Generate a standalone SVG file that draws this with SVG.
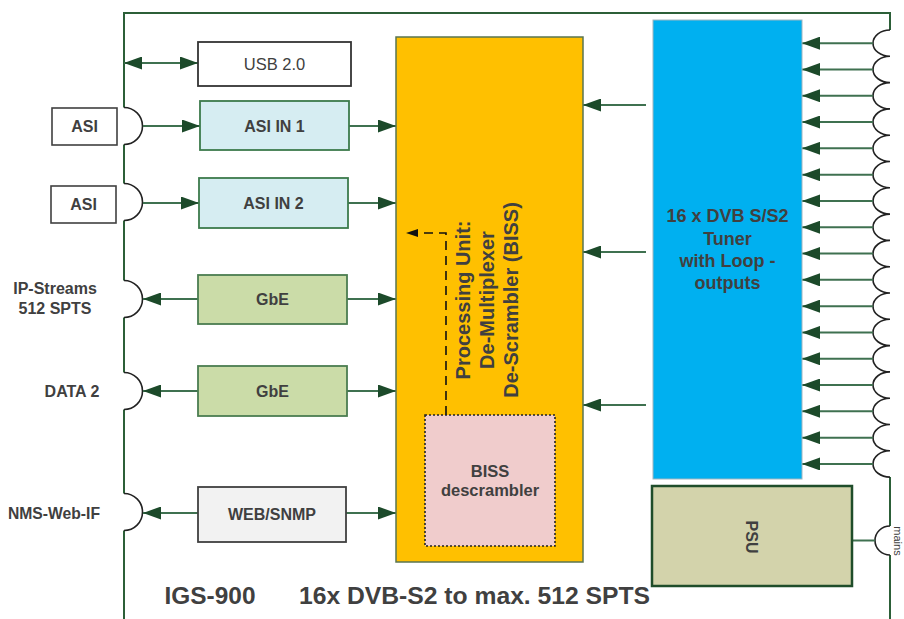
<svg xmlns="http://www.w3.org/2000/svg" width="904" height="619" viewBox="0 0 904 619">
<defs>
<style>
.t{font-family:"Liberation Sans",Arial,sans-serif;font-weight:bold;fill:#404040;text-anchor:middle}
.n{font-weight:normal}
.frame{fill:none;stroke:#2c5f38;stroke-width:2}
.bump{fill:none;stroke:#222;stroke-width:1.6}
.ln{fill:none;stroke:#3f7150;stroke-width:2}
.a{marker-end:url(#ah)}
.ab{marker-start:url(#ah);marker-end:url(#ah)}
.as{marker-start:url(#ah)}
</style>
<marker id="ah" viewBox="0 0 18 13" refX="18" refY="6.5" markerWidth="18" markerHeight="13" markerUnits="userSpaceOnUse" orient="auto-start-reverse"><path d="M0,0 L18,6.5 L0,13 z" fill="#1c4a2a"/></marker>
<marker id="ahk" viewBox="0 0 12 8" refX="12" refY="4" markerWidth="12" markerHeight="8" markerUnits="userSpaceOnUse" orient="auto"><path d="M0,0 L12,4 L0,8 z" fill="#111"/></marker>
</defs>
<rect width="904" height="619" fill="#fff"/>

<g id="frame">
<path class="frame" d="M124,619 V530.5 M124,493.5 V409.5 M124,372.5 V317.5 M124,280.5 V220.5 M124,183.5 V144.5 M124,107.5 V13 H890 V30"/>
<path class="frame" stroke="#4a7a5a" d="M890,477 V526 M890,555 V619"/>
<path class="bump" d="M124,107.5 A18.5 18.5 0 0 1 124 144.5 M124,183.5 A18.5 18.5 0 0 1 124 220.5 M124,280.5 A18.5 18.5 0 0 1 124 317.5 M124,372.5 A18.5 18.5 0 0 1 124 409.5 M124,493.5 A18.5 18.5 0 0 1 124 530.5"/>
<path class="bump" d="M890,30 A17 13.15 0 0 0 890 56.3 A17 13.15 0 0 0 890 82.6 A17 13.15 0 0 0 890 108.9 A17 13.15 0 0 0 890 135.2 A17 13.15 0 0 0 890 161.5 A17 13.15 0 0 0 890 187.8 A17 13.15 0 0 0 890 214.1 A17 13.15 0 0 0 890 240.4 A17 13.15 0 0 0 890 266.7 A17 13.15 0 0 0 890 293 A17 13.15 0 0 0 890 319.3 A17 13.15 0 0 0 890 345.6 A17 13.15 0 0 0 890 371.9 A17 13.15 0 0 0 890 398.2 A17 13.15 0 0 0 890 424.5 A17 13.15 0 0 0 890 450.8 A17 13.15 0 0 0 890 477.1 M890,526 A15 14.5 0 0 0 890 555"/>
</g>

<g id="connectors">
<line class="ln ab" x1="124" y1="63" x2="198" y2="63"/>
<line class="ln a" x1="143" y1="126" x2="200" y2="126" stroke-width="2.6" stroke="#2c5f38"/>
<line class="ln a" x1="349" y1="126" x2="396" y2="126"/>
<line class="ln a" x1="143" y1="203" x2="199" y2="203" stroke-width="2.6" stroke="#2c5f38"/>
<line class="ln a" x1="348" y1="203" x2="396" y2="203"/>
<line class="ln as" x1="143" y1="299" x2="198" y2="299"/>
<line class="ln a" x1="347" y1="299" x2="396" y2="299"/>
<line class="ln as" x1="143" y1="391" x2="198" y2="391"/>
<line class="ln a" x1="347" y1="391" x2="396" y2="391"/>
<line class="ln as" x1="143" y1="513" x2="198" y2="513"/>
<line class="ln a" x1="346" y1="513" x2="396" y2="513"/>
<line class="ln a" x1="646" y1="105" x2="583" y2="105"/>
<line class="ln a" x1="646" y1="252" x2="583" y2="252"/>
<line class="ln a" x1="646" y1="405" x2="583" y2="405"/>
<g class="ln a">
<line x1="873" y1="43.15" x2="802" y2="43.15"/>
<line x1="873" y1="69.45" x2="802" y2="69.45"/>
<line x1="873" y1="95.75" x2="802" y2="95.75"/>
<line x1="873" y1="122.05" x2="802" y2="122.05"/>
<line x1="873" y1="148.35" x2="802" y2="148.35"/>
<line x1="873" y1="174.65" x2="802" y2="174.65"/>
<line x1="873" y1="200.95" x2="802" y2="200.95"/>
<line x1="873" y1="227.25" x2="802" y2="227.25"/>
<line x1="873" y1="253.55" x2="802" y2="253.55"/>
<line x1="873" y1="279.85" x2="802" y2="279.85"/>
<line x1="873" y1="306.15" x2="802" y2="306.15"/>
<line x1="873" y1="332.45" x2="802" y2="332.45"/>
<line x1="873" y1="358.75" x2="802" y2="358.75"/>
<line x1="873" y1="385.05" x2="802" y2="385.05"/>
<line x1="873" y1="411.35" x2="802" y2="411.35"/>
<line x1="873" y1="437.65" x2="802" y2="437.65"/>
<line x1="873" y1="463.95" x2="802" y2="463.95"/>
</g>
<line class="ln" x1="852" y1="540.5" x2="875" y2="540.5"/>
</g>

<g id="asi-label-1"><rect x="52" y="108" width="65" height="37" fill="#fff" stroke="#404040" stroke-width="1.6"/><text class="t" x="84.5" y="132" font-size="16">ASI</text></g>
<g id="asi-label-2"><rect x="51" y="186" width="65" height="37" fill="#fff" stroke="#404040" stroke-width="1.6"/><text class="t" x="83.5" y="210" font-size="16">ASI</text></g>
<g id="ip-streams"><text class="t" x="55" y="294" font-size="16">IP-Streams</text><text class="t" x="55" y="314" font-size="16">512 SPTS</text></g>
<g id="data2"><text class="t" x="72" y="397" font-size="16">DATA 2</text></g>
<g id="nms"><text class="t" x="54" y="519" font-size="15.7">NMS-Web-IF</text></g>

<g id="usb"><rect x="198" y="42" width="153" height="44" fill="#fff" stroke="#333" stroke-width="1.8"/><text class="t n" x="274.5" y="70" font-size="16.5">USB 2.0</text></g>
<g id="asi-in-1"><rect x="200" y="101" width="149" height="49" fill="#d6edf2" stroke="#3c7a4c" stroke-width="1.8"/><text class="t" x="274.5" y="132" font-size="16">ASI IN 1</text></g>
<g id="asi-in-2"><rect x="199" y="178" width="149" height="50" fill="#d6edf2" stroke="#3c7a4c" stroke-width="1.8"/><text class="t" x="273.5" y="209" font-size="16">ASI IN 2</text></g>
<g id="gbe-1"><rect x="198" y="275" width="149" height="49" fill="#cbdca8" stroke="#4b7d50" stroke-width="1.8"/><text class="t" x="272.5" y="305" font-size="16">GbE</text></g>
<g id="gbe-2"><rect x="198" y="366" width="149" height="50" fill="#cbdca8" stroke="#4b7d50" stroke-width="1.8"/><text class="t" x="272.5" y="397" font-size="16">GbE</text></g>
<g id="web-snmp"><rect x="198" y="487" width="148" height="55" fill="#f2f2f2" stroke="#404040" stroke-width="1.8"/><text class="t" x="272" y="520" font-size="16">WEB/SNMP</text></g>

<g id="processing-unit">
<rect x="396" y="37" width="187" height="525" fill="#ffc000" stroke="#5a7550" stroke-width="1.5"/>
<g transform="translate(0,300) rotate(-90)">
<text class="t" x="0" y="470" font-size="20">Processing Unit:</text>
<text class="t" x="0" y="494" font-size="20">De-Multiplexer</text>
<text class="t" x="0" y="518" font-size="20">De-Scrambler (BISS)</text>
</g>
<path d="M446,415 V233 H406" fill="none" stroke="#111" stroke-width="1.6" stroke-dasharray="9 6" marker-end="url(#ahk)"/>
</g>

<g id="biss-descrambler">
<rect x="425" y="415" width="130" height="131" fill="#f0cccc" stroke="#222" stroke-width="1.6" stroke-dasharray="2 2"/>
<text class="t" x="490" y="477" font-size="16.5">BISS</text>
<text class="t" x="490" y="496" font-size="16.5">descrambler</text>
</g>

<g id="tuner">
<rect x="653" y="20" width="149" height="459" fill="#00b0f0" stroke="#9fb5c0" stroke-width="1"/>
<text class="t" x="727.5" y="222" font-size="18">16 x DVB S/S2</text>
<text class="t" x="727.5" y="245" font-size="18">Tuner</text>
<text class="t" x="727.5" y="267" font-size="18">with Loop -</text>
<text class="t" x="727.5" y="289" font-size="18">outputs</text>
</g>

<g id="psu">
<rect x="652" y="486" width="200" height="100" fill="#d3d3ab" stroke="#1f4d2a" stroke-width="2.5"/>
<text class="t" transform="translate(746,537) rotate(90)" x="0" y="0" font-size="16">PSU</text>
</g>
<g id="mains"><text class="t n" transform="translate(894,541) rotate(90)" x="0" y="0" font-size="11">mains</text></g>

<g id="title">
<text class="t" x="210" y="604" font-size="24" textLength="91" lengthAdjust="spacingAndGlyphs">IGS-900</text>
<text class="t" x="474.5" y="604" font-size="24" textLength="351" lengthAdjust="spacingAndGlyphs">16x DVB-S2 to max. 512 SPTS</text>
</g>
</svg>
